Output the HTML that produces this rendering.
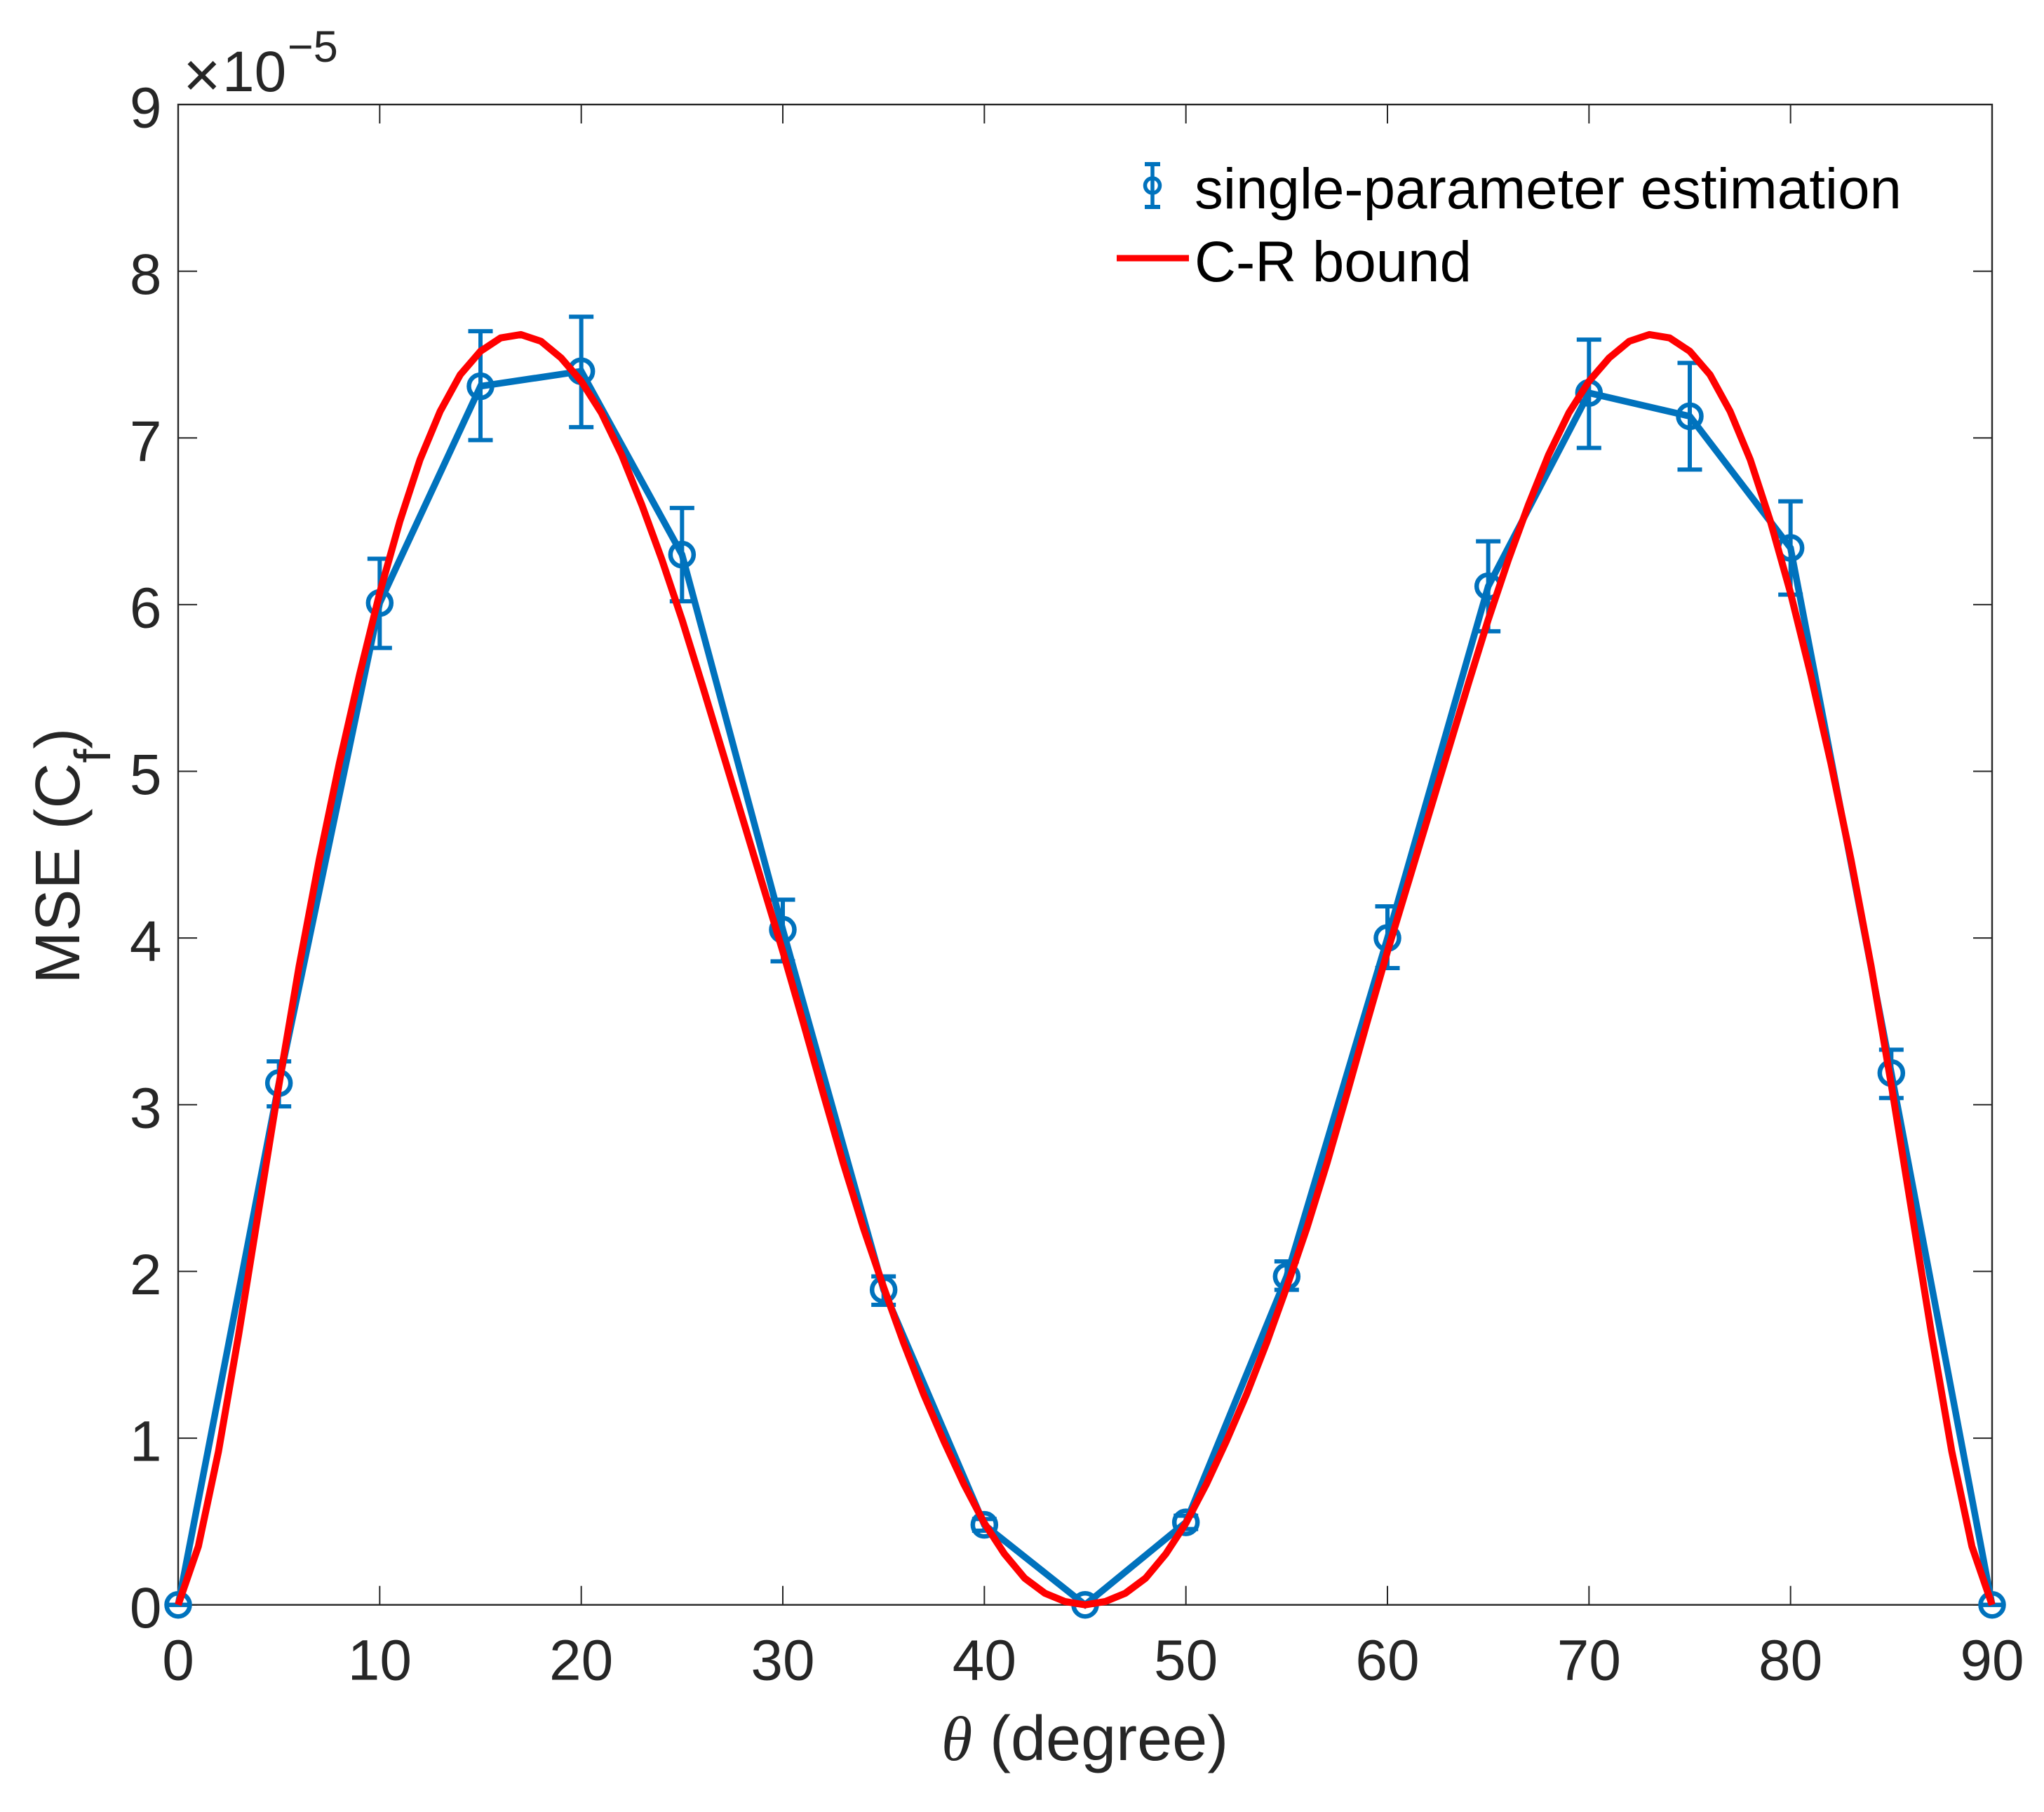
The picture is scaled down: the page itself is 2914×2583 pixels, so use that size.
<!DOCTYPE html>
<html lang="en">
<head>
<meta charset="utf-8">
<title>MSE vs theta</title>
<style>
html,body{margin:0;padding:0;background:#fff;}
svg{display:block;}
text{font-family:"Liberation Sans",sans-serif;}
</style>
</head>
<body>
<svg id="chart" xmlns="http://www.w3.org/2000/svg" width="2914" height="2583" viewBox="0 0 2914 2583">
  <rect x="0" y="0" width="2914" height="2583" fill="#ffffff"/>
  <g id="ticks"></g>
  <g id="tick-labels"></g>
  <rect x="254" y="149" width="2586" height="2138.7" fill="none" stroke="#262626" stroke-width="2.4"/>
  <g id="series"></g>

  <text x="261" y="138" font-size="92" fill="#262626">×</text>
  <text x="317" y="130" font-size="82" fill="#262626">10</text>
  <text x="410" y="88" font-size="63" fill="#262626">−5</text>

  <text y="2509" font-size="90" fill="#262626"><tspan x="1342" font-family="'Liberation Serif',serif" font-style="italic">θ</tspan><tspan x="1411">(degree)</tspan></text>
  <text transform="translate(113,1402.6) rotate(-90)" font-size="90" fill="#262626">MSE (C<tspan font-size="72" dy="44">f</tspan><tspan dy="-44">)</tspan></text>

  <g>
    <g>
      <line x1="1643" y1="234" x2="1643" y2="295" stroke="#0072BD" stroke-width="5.5"/>
      <line x1="1632" y1="234" x2="1654" y2="234" stroke="#0072BD" stroke-width="6"/>
      <line x1="1632" y1="295" x2="1654" y2="295" stroke="#0072BD" stroke-width="6"/>
      <circle cx="1643" cy="264.5" r="10.5" fill="none" stroke="#0072BD" stroke-width="5.5"/>
      <text x="1703" y="297" font-size="81.7" fill="#000000">single-parameter estimation</text>
    </g>
    <g>
      <line x1="1592" y1="368" x2="1695" y2="368" stroke="#FF0000" stroke-width="9"/>
      <text x="1703" y="401" font-size="81.7" fill="#000000">C-R bound</text>
    </g>
  </g>
</svg>
<script>
var xTickValues = [0, 10, 20, 30, 40, 50, 60, 70, 80, 90];
var yTickValues = [0, 1, 2, 3, 4, 5, 6, 7, 8, 9];

var thetaMeasured = [0, 5, 10, 15, 20, 25, 30, 35, 40, 45, 50, 55, 60, 65, 70, 75, 80, 85, 90];
var mseMeasured = [0, 3.13, 6.01, 7.31, 7.40, 6.30, 4.05, 1.89, 0.48, 0, 0.495, 1.97, 4.00, 6.11, 7.27, 7.13, 6.34, 3.19, 0];
var errUpper = [0, 3.26, 6.275, 7.64, 7.727, 6.58, 4.23, 1.97, 0.515, 0, 0.535, 2.06, 4.19, 6.38, 7.59, 7.45, 6.62, 3.33, 0];
var errLower = [0, 2.99, 5.74, 6.987, 7.065, 6.02, 3.86, 1.80, 0.445, 0, 0.455, 1.89, 3.82, 5.84, 6.94, 6.81, 6.06, 3.04, 0];

var thetaBound = [
  0, 1, 2, 3, 4, 5, 6, 7, 8, 9,
  10, 11, 12, 13, 14, 15, 16, 17, 18, 19,
  20, 21, 22, 23, 24, 25, 26, 27, 28, 29,
  30, 31, 32, 33, 34, 35, 36, 37, 38, 39,
  40, 41, 42, 43, 44, 45, 46, 47, 48, 49,
  50, 51, 52, 53, 54, 55, 56, 57, 58, 59,
  60, 61, 62, 63, 64, 65, 66, 67, 68, 69,
  70, 71, 72, 73, 74, 75, 76, 77, 78, 79,
  80, 81, 82, 83, 84, 85, 86, 87, 88, 89, 90
];
var mseBound = [
  0, 0.35, 0.92, 1.62, 2.37, 3.12, 3.83, 4.47, 5.05, 5.58,
  6.07, 6.50, 6.87, 7.16, 7.38, 7.52, 7.60, 7.62, 7.58, 7.48,
  7.34, 7.15, 6.90, 6.60, 6.27, 5.91, 5.52, 5.12, 4.72, 4.32,
  3.92, 3.50, 3.07, 2.65, 2.26, 1.906, 1.57, 1.26, 0.98, 0.72,
  0.49, 0.305, 0.16, 0.07, 0.02, 0, 0.02, 0.07, 0.16, 0.305,
  0.49, 0.72, 0.98, 1.26, 1.57, 1.906, 2.26, 2.65, 3.07, 3.50,
  3.92, 4.32, 4.72, 5.12, 5.52, 5.91, 6.27, 6.60, 6.90, 7.15,
  7.34, 7.48, 7.58, 7.62, 7.60, 7.52, 7.38, 7.16, 6.87, 6.50,
  6.07, 5.58, 5.05, 4.47, 3.83, 3.12, 2.37, 1.62, 0.92, 0.35, 0
];

var SVGNS = 'http://www.w3.org/2000/svg';
var plotLeft = 254, plotRight = 2840, plotTop = 149, plotBottom = 2287.7;
function xScale(v) { return plotLeft + (v - 0) / 90 * (plotRight - plotLeft); }
function yScale(v) { return plotBottom - (v - 0) / 9 * (plotBottom - plotTop); }
function make(tag, parent, attrs) {
  var el = document.createElementNS(SVGNS, tag);
  for (var k in attrs) { el.setAttribute(k, attrs[k]); }
  parent.appendChild(el);
  return el;
}
var ticksG = document.getElementById('ticks');
var labelsG = document.getElementById('tick-labels');
var seriesG = document.getElementById('series');
var tickLen = 27;
var tickStyle = { stroke: '#262626', 'stroke-width': 2 };
function tickLine(x1, y1, x2, y2, name) {
  var el = make('line', ticksG, { x1: x1, y1: y1, x2: x2, y2: y2, stroke: tickStyle.stroke, 'stroke-width': tickStyle['stroke-width'] });
  
  
}
xTickValues.forEach(function (v) {
  var x = xScale(v);
  tickLine(x, plotBottom, x, plotBottom - tickLen, 'x-tick-bottom');
  tickLine(x, plotTop, x, plotTop + tickLen, 'x-tick-top');
  var t = make('text', labelsG, { x: x, y: 2394.7, 'font-size': 82, fill: '#262626', 'text-anchor': 'middle' });
  t.textContent = String(v);
  
  
});
yTickValues.forEach(function (v) {
  var y = yScale(v);
  tickLine(plotLeft, y, plotLeft + tickLen, y, 'y-tick-left');
  tickLine(plotRight, y, plotRight - tickLen, y, 'y-tick-right');
  var t = make('text', labelsG, { x: 230.5, y: y + 32.5, 'font-size': 82, fill: '#262626', 'text-anchor': 'end' });
  t.textContent = String(v);
  
  
});

// measured series: error bars, connecting line, markers
var blue = '#0072BD';
thetaMeasured.forEach(function (th, i) {
  var x = xScale(th), yU = yScale(errUpper[i]), yL = yScale(errLower[i]);
  var capHalf = 17.5;
  var stem = make('line', seriesG, { x1: x, y1: yU, x2: x, y2: yL, stroke: blue, 'stroke-width': 6 });
  
  
  var capTop = make('line', seriesG, { x1: x - capHalf, y1: yU, x2: x + capHalf, y2: yU, stroke: blue, 'stroke-width': 6 });
  
  
  var capBot = make('line', seriesG, { x1: x - capHalf, y1: yL, x2: x + capHalf, y2: yL, stroke: blue, 'stroke-width': 6 });
  
  
});
var measuredPts = thetaMeasured.map(function (th, i) { return xScale(th).toFixed(2) + ',' + yScale(mseMeasured[i]).toFixed(2); }).join(' ');
var measuredLine = make('polyline', seriesG, { points: measuredPts, fill: 'none', stroke: blue, 'stroke-width': 9.5, 'stroke-linejoin': 'miter' });


thetaMeasured.forEach(function (th, i) {
  var m = make('circle', seriesG, { cx: xScale(th), cy: yScale(mseMeasured[i]), r: 16.5, fill: 'none', stroke: blue, 'stroke-width': 6.5 });
  
  
});

// bound curve
var boundPts = thetaBound.map(function (th, i) { return xScale(th).toFixed(2) + ',' + yScale(mseBound[i]).toFixed(2); }).join(' ');
var boundLine = make('polyline', seriesG, { points: boundPts, fill: 'none', stroke: '#FF0000', 'stroke-width': 10, 'stroke-linejoin': 'round' });


</script>
</body>
</html>
